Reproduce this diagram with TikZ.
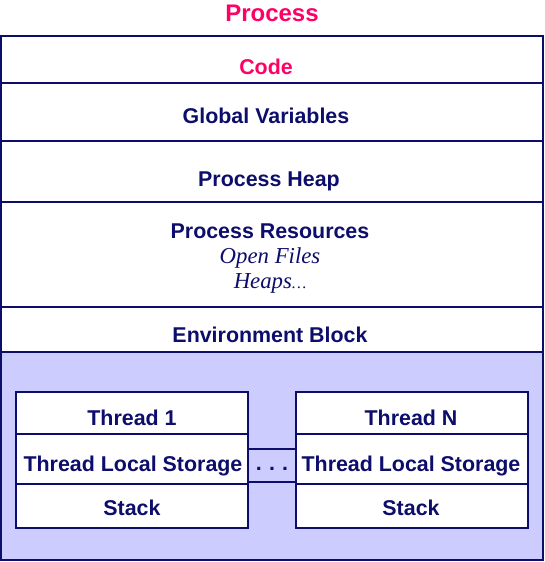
\documentclass[tikz,border=0pt]{standalone}
\usepackage{fontspec}
\setmainfont{Liberation Serif}
\setsansfont{Liberation Sans}
\definecolor{navy}{HTML}{0D0D6B}
\definecolor{hotpink}{HTML}{FF0066}
\definecolor{lavender}{HTML}{CCCCFF}
\tikzset{band/.style = {draw=navy, line width=1.6pt}}
\tikzset{lbl/.style = {anchor=base, text=navy, inner sep=0, font=\sffamily\bfseries\fontsize{21.4}{23}\selectfont}}
\tikzset{ital/.style = {anchor=base, text=navy, inner sep=0, font=\itshape\fontsize{22.8}{24}\selectfont}}

\begin{document}
\begin{tikzpicture}[x=1pt, y=-1pt]
    \useasboundingbox (0,0) rectangle (544,562);
    \node [lbl, text=hotpink, font=\sffamily\bfseries\fontsize{24}{26}\selectfont] (title) at (272, 21.8) {Process};

    % Process layout
    \fill [lavender] (1,352) rectangle (543,560);
    \draw [band] (1,36) rectangle (543,560);
    \draw [band] (1,83) -- (543,83);
    \draw [band] (1,141) -- (543,141);
    \draw [band] (1,202) -- (543,202);
    \draw [band] (1,307) -- (543,307);
    \draw [band] (1,352) -- (543,352);

    \node [lbl, text=hotpink] (code) at (266, 74.7) {Code};
    \node [lbl] (globals) at (266, 123.7) {Global Variables};
    \node [lbl] (heap) at (269, 186.7) {Process Heap};
    \node [lbl] (resources) at (270, 238.7) {Process Resources};
    \node [ital] (files) at (270, 263.5) {Open Files};
    \node [ital] (heaps) at (270, 288.5) {Heaps{\fontsize{16}{18}\selectfont\ldots}};
    \node [lbl] (envblock) at (270, 342.7) {Environment Block};

    % Threads
    \foreach \x/\n in {16/1, 296/N} {
        \filldraw [band, fill=white] (\x,392) rectangle ++(232,136);
        \draw [band] (\x,434) -- ++(232,0);
        \draw [band] (\x,484) -- ++(232,0);
    }
    \node [lbl] (thread1) at (132, 425.7) {Thread 1};
    \node [lbl] (tls1) at (133, 471.7) {Thread Local Storage};
    \node [lbl] (stack1) at (132, 515.7) {Stack};
    \node [lbl] (threadN) at (411, 425.7) {Thread N};
    \node [lbl] (tlsN) at (411, 471.7) {Thread Local Storage};
    \node [lbl] (stackN) at (411, 515.7) {Stack};

    \draw [band] (248,449) -- (296,449);
    \draw [band] (248,482) -- (296,482);
    \node [lbl] (dots) at (272, 470) {.\,\,.\,\,.};
\end{tikzpicture}
\end{document}
